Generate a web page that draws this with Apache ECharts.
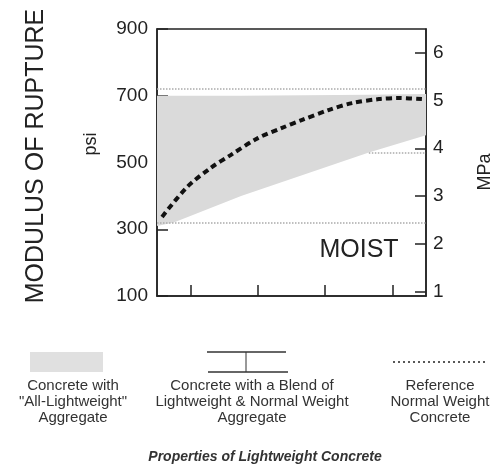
<!DOCTYPE html>
<html>
<head>
<meta charset="utf-8">
<script src="https://cdn.jsdelivr.net/npm/echarts@6/dist/echarts.min.js"></script>
<style>
  html, body { margin: 0; padding: 0; background: #fff; }
  #chart { width: 495px; height: 470px; }
</style>
</head>
<body>
<div id="chart"></div>
<script>
// x positions of the bottom ticks (no labels in the source)
const xTicks = [1, 3, 5, 7]
const psiTicks = [100, 300, 500, 700, 900]
const mpaTicks = [1, 2, 3, 4, 5, 6]

// reference normal weight concrete (dashed curve), psi
const refX = [0.15, 0.9, 1.6, 2.2, 3.0, 3.7, 4.3, 5.1, 5.8, 6.6, 7.2, 7.9]
const refPsi = [337, 427, 484, 523, 573, 603, 627, 657, 678, 690, 693, 690]

// all-lightweight band (shaded)
const bandX = [0, 0.5, 2.5, 6.3, 8]
const bandLow = [310, 320, 400, 530, 582]
const bandHigh = [700, 700, 700, 703, 705]

// blend of lightweight & normal weight: range lines
const blendLimits = [720, 320]
const stubX = [6.3, 8]
const stubPsi = 530

const ink = '#222'
const shade = '#dadada'
const font = 'Liberation Sans, Arial, sans-serif'

const chart = echarts.init(document.getElementById('chart'))

const text = (x, y, str, size, extra = {}) => ({
  type: 'text',
  x,
  y,
  rotation: extra.rotation || 0,
  style: {
    text: str,
    fill: extra.color || ink,
    font: `${extra.italic ? 'italic ' : ''}${extra.weight || 'normal'} ${size}px ${font}`,
    align: 'center',
    textAlign: 'center',
    verticalAlign: extra.va || 'middle',
    textVerticalAlign: extra.va || 'middle',
    lineHeight: extra.lineHeight || size
  }
})

// shaded band drawn as one polygon through the axis scales
const renderBand = (params, api) => {
  if (params.dataIndex !== 0) return null
  const top = bandX.map((x, i) => api.coord([x, bandHigh[i]]))
  const bottom = bandX.map((x, i) => api.coord([x, bandLow[i]])).reverse()
  return {
    type: 'polygon',
    shape: { points: top.concat(bottom) },
    style: { fill: shade }
  }
}

chart.setOption({
  animation: false,
  backgroundColor: '#fff',
  grid: {
    left: 157,
    right: 69,
    top: 29,
    bottom: 174,
    show: true,
    borderColor: ink,
    borderWidth: 1.5
  },
  xAxis: {
    type: 'value',
    min: 0,
    max: 8,
    splitLine: { show: false },
    axisLine: { lineStyle: { color: ink, width: 1.5 } },
    axisTick: { show: true, inside: true, length: 11, customValues: xTicks, lineStyle: { color: ink, width: 1.5 } },
    axisLabel: { show: false }
  },
  yAxis: [
    {
      type: 'value',
      min: 100,
      max: 900,
      interval: 200,
      splitLine: { show: false },
      axisLine: { show: true, lineStyle: { color: ink, width: 1.5 } },
      axisTick: { show: true, inside: true, length: 11, lineStyle: { color: ink, width: 1.5 } },
      axisLabel: { color: ink, fontSize: 19, fontFamily: font, margin: 9, customValues: psiTicks }
    },
    {
      type: 'value',
      position: 'right',
      min: 0.915,
      max: 6.49,
      splitLine: { show: false },
      axisLine: { show: true, lineStyle: { color: ink, width: 1.5 } },
      axisTick: { show: true, inside: true, length: 11, customValues: mpaTicks, lineStyle: { color: ink, width: 1.5 } },
      axisLabel: { color: ink, fontSize: 19, fontFamily: font, margin: 7, customValues: mpaTicks }
    }
  ],
  series: [
    {
      type: 'custom',
      renderItem: renderBand,
      data: bandX.map((x, i) => [x, bandLow[i]]),
      silent: true,
      z: 1,
      markLine: {
        silent: true,
        symbol: 'none',
        label: { show: false },
        lineStyle: { color: '#aaa', width: 1.5, type: 'dotted' },
        data: [
          ...blendLimits.map(v => ({ yAxis: v })),
          [{ coord: [stubX[0], stubPsi] }, { coord: [stubX[1], stubPsi] }]
        ]
      }
    },
    {
      type: 'line',
      data: refX.map((x, i) => [x, refPsi[i]]),
      smooth: 0.3,
      symbol: 'none',
      lineStyle: { color: '#111', width: 4, type: [6, 4] },
      z: 3
    }
  ],
  graphic: [
    text(36, 156, 'MODULUS OF RUPTURE', 25, { rotation: Math.PI / 2 }),
    text(91, 144, 'psi', 18, { rotation: Math.PI / 2 }),
    text(485, 172, 'MPa', 18, { rotation: Math.PI / 2 }),
    text(359, 250, 'MOIST', 25),
    { type: 'rect', shape: { x: 30, y: 352, width: 73, height: 20 }, style: { fill: '#e0e0e0' } },
    { type: 'line', shape: { x1: 207, y1: 352, x2: 286, y2: 352 }, style: { stroke: '#333', lineWidth: 1.5 } },
    { type: 'line', shape: { x1: 208, y1: 372, x2: 288, y2: 372 }, style: { stroke: '#333', lineWidth: 1.5 } },
    { type: 'line', shape: { x1: 246, y1: 352, x2: 246, y2: 372 }, style: { stroke: '#333', lineWidth: 1 } },
    { type: 'line', shape: { x1: 393, y1: 362, x2: 487, y2: 362 }, style: { stroke: '#222', lineWidth: 1.5, lineDash: [2, 3] } },
    text(73, 378, 'Concrete with\n"All-Lightweight"\nAggregate', 15, { va: 'top', lineHeight: 16, color: '#333' }),
    text(252, 378, 'Concrete with a Blend of\nLightweight & Normal Weight\nAggregate', 15, { va: 'top', lineHeight: 16, color: '#333' }),
    text(440, 378, 'Reference\nNormal Weight\nConcrete', 15, { va: 'top', lineHeight: 16, color: '#333' }),
    text(265, 457, 'Properties of Lightweight Concrete', 14, { italic: true, weight: 'bold', color: '#333' })
  ]
})
</script>
</body>
</html>
